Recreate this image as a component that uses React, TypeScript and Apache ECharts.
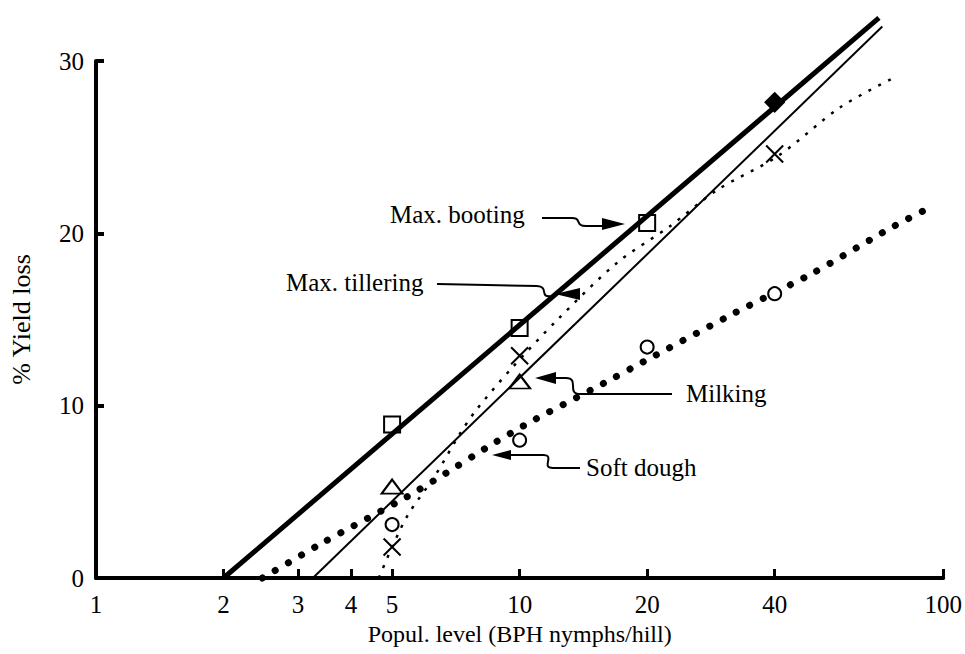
import React, { useEffect, useRef } from "react";
import * as echarts from "echarts";

// Axis ticks / labels
const xTickValues = [2, 3, 4, 5, 10, 20, 40, 100];
const xLabelValues = [1, 2, 3, 4, 5, 10, 20, 40, 100];

// Max. booting (thick solid fitted line + squares)
const bootingLine = [[2.0, 0], [70.5, 32.5]];
const bootingPoints = [[5, 8.9], [10, 14.5], [20, 20.6]];
const bootingFilled = [[40, 27.6]];

// Fine dotted curve + crosses
const tilleringCurve = [
  [4.65, 0], [5.0, 1.8], [5.46, 3.7], [6.3, 5.9], [7.2, 8.3], [7.9, 9.75],
  [9.6, 12.2], [12.3, 15.0], [17, 18.3], [22.6, 20.4], [29.2, 22.5],
  [40.8, 24.5], [57, 27.3], [76, 29.0],
];
const tilleringPoints = [[5, 1.8], [10, 12.9], [40, 24.6]];

// Thin solid line + triangles
const milkingLine = [[3.25, 0], [71.8, 32.0]];
const milkingPoints = [[5, 5.3], [10, 11.4]];

// Heavy dotted line + circles
const softDoughCurve = [
  [2.47, 0], [3.46, 2.1], [5.32, 4.6], [6.52, 5.9], [8.4, 7.6], [10.5, 9.0],
  [15.8, 11.3], [19.95, 12.65], [32.3, 15.4], [49.3, 17.7], [75, 20.3], [93, 21.5],
];
const softDoughPoints = [[5, 3.1], [10, 8.0], [20, 13.4], [40, 16.5]];

const FONT = '"Liberation Serif", "Times New Roman", serif';
const BLACK = "#000";

function arrowHead(tipX: number, tipY: number, baseX: number, half: number) {
  return {
    type: "polygon",
    shape: { points: [[tipX, tipY], [baseX, tipY - half], [baseX, tipY + half]] },
    style: { fill: BLACK },
  };
}

export default function App() {
  const ref = useRef<HTMLDivElement>(null);
  useEffect(() => {
    if (!ref.current) return;
    const chart = echarts.init(ref.current, undefined, { renderer: "svg" });
    const lineStroke = { stroke: BLACK, lineWidth: 2, fill: "none" };
    const textStyle = (t: string, x: number, y: number) => ({
      type: "text",
      x,
      y,
      style: { text: t, fill: BLACK, font: `25px ${FONT}`, textVerticalAlign: "middle" },
    });
    const hollow = { color: "rgba(255,255,255,0)", borderColor: BLACK, borderWidth: 2, opacity: 1 };
    chart.setOption({
      animation: false,
      grid: { left: 93, right: 17, top: 61, bottom: 76 },
      xAxis: {
        type: "log",
        logBase: 10,
        min: 1,
        max: 100,
        name: "Popul. level (BPH nymphs/hill)",
        nameLocation: "middle",
        nameGap: 44,
        nameTextStyle: { fontFamily: FONT, fontSize: 24, color: BLACK },
        axisLine: { lineStyle: { color: BLACK, width: 4 } },
        axisTick: { show: true, inside: true, length: 9, lineStyle: { color: BLACK, width: 3 }, customValues: xTickValues },
        axisLabel: {
          customValues: xLabelValues,
          formatter: (v: number) => String(Math.round(v)),
          fontFamily: FONT,
          fontSize: 25,
          color: BLACK,
          margin: 14,
        },
        splitLine: { show: false },
        minorTick: { show: false },
      },
      yAxis: {
        type: "value",
        min: 0,
        max: 30,
        interval: 10,
        name: "% Yield loss",
        nameLocation: "middle",
        nameGap: 62,
        nameRotate: 90,
        nameTextStyle: { fontFamily: FONT, fontSize: 26, color: BLACK },
        axisLine: { show: true, lineStyle: { color: BLACK, width: 4 } },
        axisTick: { show: true, inside: true, length: 8, lineStyle: { color: BLACK, width: 4 } },
        axisLabel: { fontFamily: FONT, fontSize: 25, color: BLACK, margin: 12 },
        splitLine: { show: false },
      },
      series: [
        {
          name: "Max. booting fit",
          type: "line",
          data: bootingLine,
          symbol: "none",
          clip: false,
          lineStyle: { color: BLACK, width: 5 },
          z: 3,
        },
        {
          name: "Max. tillering fit",
          type: "line",
          data: tilleringCurve,
          symbol: "none",
          clip: false,
          smooth: 0.3,
          lineStyle: { color: BLACK, width: 2.5, type: [3, 8] },
          z: 2,
        },
        {
          name: "Milking fit",
          type: "line",
          data: milkingLine,
          symbol: "none",
          clip: false,
          lineStyle: { color: BLACK, width: 2 },
          z: 2,
        },
        {
          name: "Soft dough fit",
          type: "line",
          data: softDoughCurve,
          symbol: "none",
          clip: false,
          smooth: 0.2,
          lineStyle: { color: BLACK, width: 7, type: [0.1, 15], cap: "round" },
          z: 2,
        },
        {
          name: "Max. booting",
          type: "scatter",
          data: bootingPoints,
          symbol: "rect",
          symbolSize: 16,
          itemStyle: hollow,
          z: 5,
        },
        {
          name: "Max. booting (filled)",
          type: "scatter",
          data: bootingFilled,
          symbol: "rect",
          symbolSize: 15,
          symbolRotate: 45,
          itemStyle: { color: BLACK, opacity: 1 },
          z: 5,
        },
        {
          name: "Max. tillering",
          type: "scatter",
          data: tilleringPoints,
          symbol: "path://M0,0L10,10M10,0L0,10",
          symbolSize: 17,
          itemStyle: hollow,
          z: 5,
        },
        {
          name: "Milking",
          type: "scatter",
          data: milkingPoints,
          symbol: "triangle",
          symbolSize: [21, 14],
          itemStyle: hollow,
          z: 5,
        },
        {
          name: "Soft dough",
          type: "scatter",
          data: softDoughPoints,
          symbol: "circle",
          symbolSize: 13,
          itemStyle: { color: "#fff", borderColor: BLACK, borderWidth: 2, opacity: 1 },
          z: 5,
        },
      ],
      graphic: [
        // Max. booting
        textStyle("Max. booting", 390, 214),
        { type: "polyline", shape: { points: [[542, 218], [570, 218]] }, style: lineStroke },
        { type: "bezierCurve", shape: { x1: 570, y1: 218, cpx1: 583, cpy1: 217, cpx2: 574, cpy2: 226, x2: 586, y2: 226 }, style: lineStroke },
        { type: "polyline", shape: { points: [[586, 226], [604, 226]] }, style: lineStroke },
        arrowHead(625, 224, 602, 6),
        // Max. tillering
        textStyle("Max. tillering", 286, 282),
        { type: "polyline", shape: { points: [[437, 284], [487, 285], [537, 286]] }, style: lineStroke },
        { type: "bezierCurve", shape: { x1: 537, y1: 286, cpx1: 550, cpy1: 287, cpx2: 538, cpy2: 298, x2: 552, y2: 296 }, style: lineStroke },
        arrowHead(555, 294, 580, 6),
        // Milking
        textStyle("Milking", 686, 393),
        { type: "polyline", shape: { points: [[672, 394], [580, 394]] }, style: lineStroke },
        { type: "bezierCurve", shape: { x1: 580, y1: 394, cpx1: 566, cpy1: 394, cpx2: 580, cpy2: 378, x2: 566, y2: 378 }, style: lineStroke },
        { type: "polyline", shape: { points: [[566, 378], [554, 378]] }, style: lineStroke },
        arrowHead(535, 378, 556, 6),
        // Soft dough
        textStyle("Soft dough", 586, 467),
        { type: "polyline", shape: { points: [[580, 468], [553, 468]] }, style: lineStroke },
        { type: "bezierCurve", shape: { x1: 553, y1: 468, cpx1: 540, cpy1: 468, cpx2: 556, cpy2: 455, x2: 543, y2: 455 }, style: lineStroke },
        { type: "polyline", shape: { points: [[543, 455], [509, 455]] }, style: lineStroke },
        arrowHead(492, 455, 511, 5),
      ],
    });
    return () => chart.dispose();
  }, []);
  return (
    <div
      ref={ref}
      style={{ position: "fixed", left: 0, top: 0, width: 965, height: 654, background: "#fff" }}
    />
  );
}
